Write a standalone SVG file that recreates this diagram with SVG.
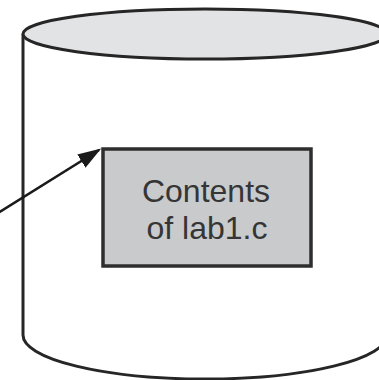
<svg xmlns="http://www.w3.org/2000/svg" width="379" height="380" viewBox="0 0 379 380">
<style>
.cyl{fill:#ffffff;stroke:#262626;stroke-width:3}
.top{fill:#e2e3e5;stroke:#262626;stroke-width:3}
.box{fill:#c9cacc;stroke:#2e2e2e;stroke-width:3.5}
.lbl{font-family:"Liberation Sans","Open Sans",Arial,sans-serif;font-size:32px;fill:#353535;text-anchor:middle}
.conn{stroke:#1a1a1a;stroke-width:2.6;fill:none}
</style>
<defs>
<marker id="arr" markerWidth="9" markerHeight="6" refX="8" refY="3" orient="auto" markerUnits="strokeWidth">
<path d="M0,0 L9,3 L0,6 Z" fill="#1a1a1a"/>
</marker>
</defs>
<rect width="379" height="380" fill="#ffffff"/>
<g id="cylinder">
<path class="cyl" d="M23,34 L23,335 A182,44 0 0 0 387,335 L387,34"/>
<ellipse class="top" cx="205" cy="34" rx="182" ry="25"/>
</g>
<g id="contents">
<rect class="box" x="103" y="149" width="208" height="117"/>
<text class="lbl" x="206" y="202">Contents</text>
<text class="lbl" x="207" y="239">of lab1.c</text>
</g>
<g id="connectors">
<line class="conn" x1="-2" y1="213" x2="99" y2="150" marker-end="url(#arr)"/>
</g>
</svg>
